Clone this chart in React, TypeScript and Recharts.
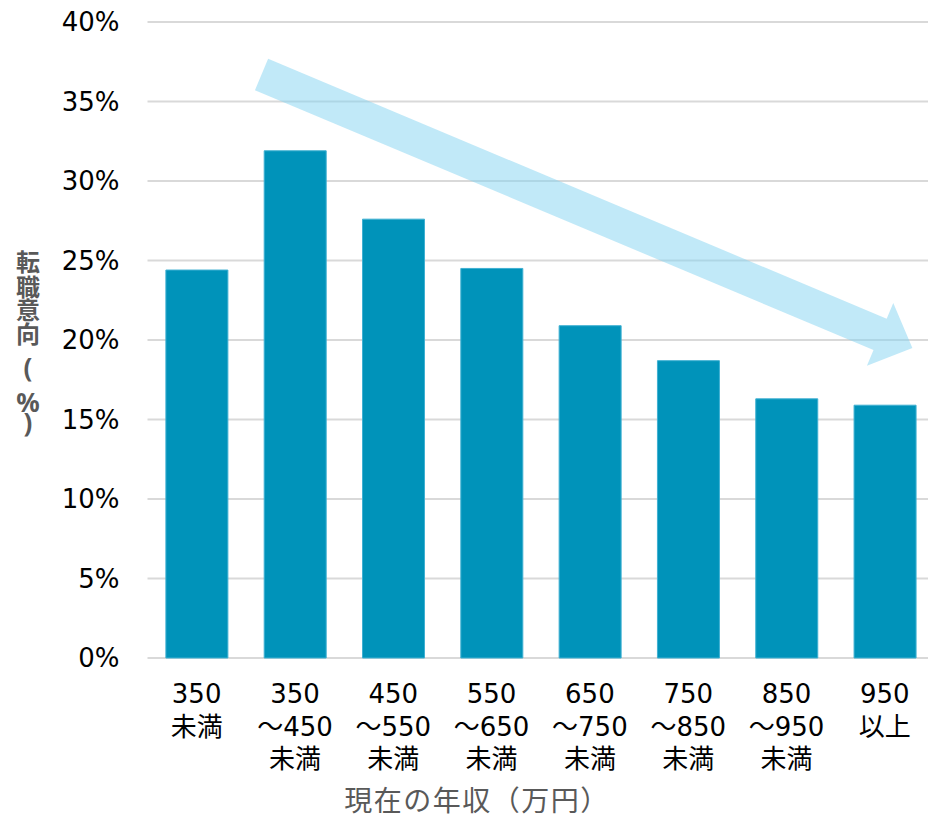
import React from 'react';
import { BarChart, Bar, XAxis, YAxis, CartesianGrid, ReferenceLine, Label } from 'recharts';

// Income bands (万円); "\n" marks a line break in the tick label
const categories = [
  '350\n未満',
  '350\n～450\n未満',
  '450\n～550\n未満',
  '550\n～650\n未満',
  '650\n～750\n未満',
  '750\n～850\n未満',
  '850\n～950\n未満',
  '950\n以上',
];

// Intention to change jobs (%) for each band
const intentValues = [24.4, 31.9, 27.6, 24.5, 20.9, 18.7, 16.3, 15.9];

const yTicks = [0, 5, 10, 15, 20, 25, 30, 35, 40];

// Downward trend arrow: anchored on a category, shifted by a fraction of a band, y in %
const trendArrow = [
  { band: 1, shift: -0.34, y: 36.7 },
  { band: 7, shift: 0.28, y: 19.5 },
];

const yTitle = '転職意向(%)';

const data = categories.map((c, i) => ({ band: c, value: intentValues[i] }));

const LATIN_FONT = "'DejaVu Sans', 'Noto Sans CJK JP', sans-serif";
const CJK_FONT = "'Noto Sans CJK JP', 'DejaVu Sans', sans-serif";
const SYMBOL_FONT = "'Noto Sans', 'DejaVu Sans', sans-serif";

const CategoryTick = (props: any) => {
  const { x, y, payload } = props;
  const lines = String(payload.value).split('\n');
  return (
    <text
      x={x}
      y={y + 45}
      textAnchor="middle"
      fontSize={26}
      fontFamily={LATIN_FONT}
      fill="#000"
    >
      {lines.map((line, i) => (
        <tspan key={i} x={x} dy={i === 0 ? 0 : 32.5}>
          {line}
        </tspan>
      ))}
    </text>
  );
};

const ArrowShape = (props: any) => {
  const { x1: ax, y1, x2: bx0, y2 } = props;
  if ([ax, y1, bx0, y2].some((v) => typeof v !== 'number' || isNaN(v))) return null;
  const [tail, tip] = trendArrow;
  const bandPx = (bx0 - ax) / (tip.band - tail.band);
  const x1 = ax + tail.shift * bandPx;
  const x2 = bx0 + tip.shift * bandPx;
  const dx = x2 - x1;
  const dy = y2 - y1;
  const len = Math.hypot(dx, dy);
  const ux = dx / len;
  const uy = dy / len;
  const nx = -uy;
  const ny = ux;
  const shaftHalf = 17;
  const headHalf = 34;
  const headLen = 35;
  const hx = x2 - ux * headLen;
  const hy = y2 - uy * headLen;
  const pts = [
    [x1 + nx * shaftHalf, y1 + ny * shaftHalf],
    [hx + nx * shaftHalf, hy + ny * shaftHalf],
    [hx + nx * headHalf, hy + ny * headHalf],
    [x2, y2],
    [hx - nx * headHalf, hy - ny * headHalf],
    [hx - nx * shaftHalf, hy - ny * shaftHalf],
    [x1 - nx * shaftHalf, y1 - ny * shaftHalf],
  ];
  return (
    <polygon
      points={pts.map((p) => `${p[0]},${p[1]}`).join(' ')}
      fill="#83d3f1"
      fillOpacity={0.5}
      stroke="none"
    />
  );
};

// Stacked vertical title, one glyph per line
const yTitleSteps = [0, 25, 22.5, 24.5, 34, 35, 20];

const YTitle = () => (
  <text
    x={28}
    y={271}
    textAnchor="middle"
    fontSize={24}
    fontWeight="bold"
    fontFamily={CJK_FONT}
    fill="#595959"
  >
    {Array.from(yTitle).map((ch, i) => {
      const isSymbol = /[()%]/.test(ch);
      return (
        <tspan
          key={i}
          x={28}
          dy={yTitleSteps[i]}
          fontSize={isSymbol ? 26 : 24}
          fontFamily={isSymbol ? SYMBOL_FONT : CJK_FONT}
        >
          {ch}
        </tspan>
      );
    })}
  </text>
);

const XTitle = () => (
  <text
    x={477}
    y={811}
    textAnchor="middle"
    fontSize={28}
    letterSpacing={1.5}
    fontFamily={CJK_FONT}
    fill="#595959"
  >
    現在の年収（万円）
  </text>
);

export default function App() {
  return (
    <div
      style={{
        position: 'absolute',
        left: 0,
        top: 0,
        width: 928,
        height: 819,
        overflow: 'hidden',
        background: '#fff',
      }}
    >
      <BarChart
        width={940}
        height={819}
        data={data}
        margin={{ top: 22, right: 6, bottom: 0, left: 0 }}
        barCategoryGap="18.7%"
      >
        <CartesianGrid vertical={false} stroke="#d9d9d9" strokeWidth={2} />
        <XAxis
          dataKey="band"
          interval={0}
          height={161}
          tickLine={false}
          axisLine={false}
          tickSize={0}
          tickMargin={0}
          tick={<CategoryTick />}
        >
          <Label content={<XTitle />} />
        </XAxis>
        <YAxis
          width={147.5}
          domain={[0, 40]}
          ticks={yTicks}
          interval={0}
          tickFormatter={(v: number) => `${v}%`}
          tickLine={false}
          axisLine={false}
          tickSize={0}
          tickMargin={28}
          tick={{ fontSize: 26, fill: '#000', fontFamily: LATIN_FONT }}
        >
          <Label content={<YTitle />} />
        </YAxis>
        <Bar
          dataKey="value"
          fill="#0093ba"
          stroke="#3fb0d2"
          strokeWidth={1}
          isAnimationActive={false}
        />
        <ReferenceLine
          segment={trendArrow.map((p) => ({ x: categories[p.band], y: p.y }))}
          shape={<ArrowShape />}
          ifOverflow="visible"
        />
      </BarChart>
    </div>
  );
}
